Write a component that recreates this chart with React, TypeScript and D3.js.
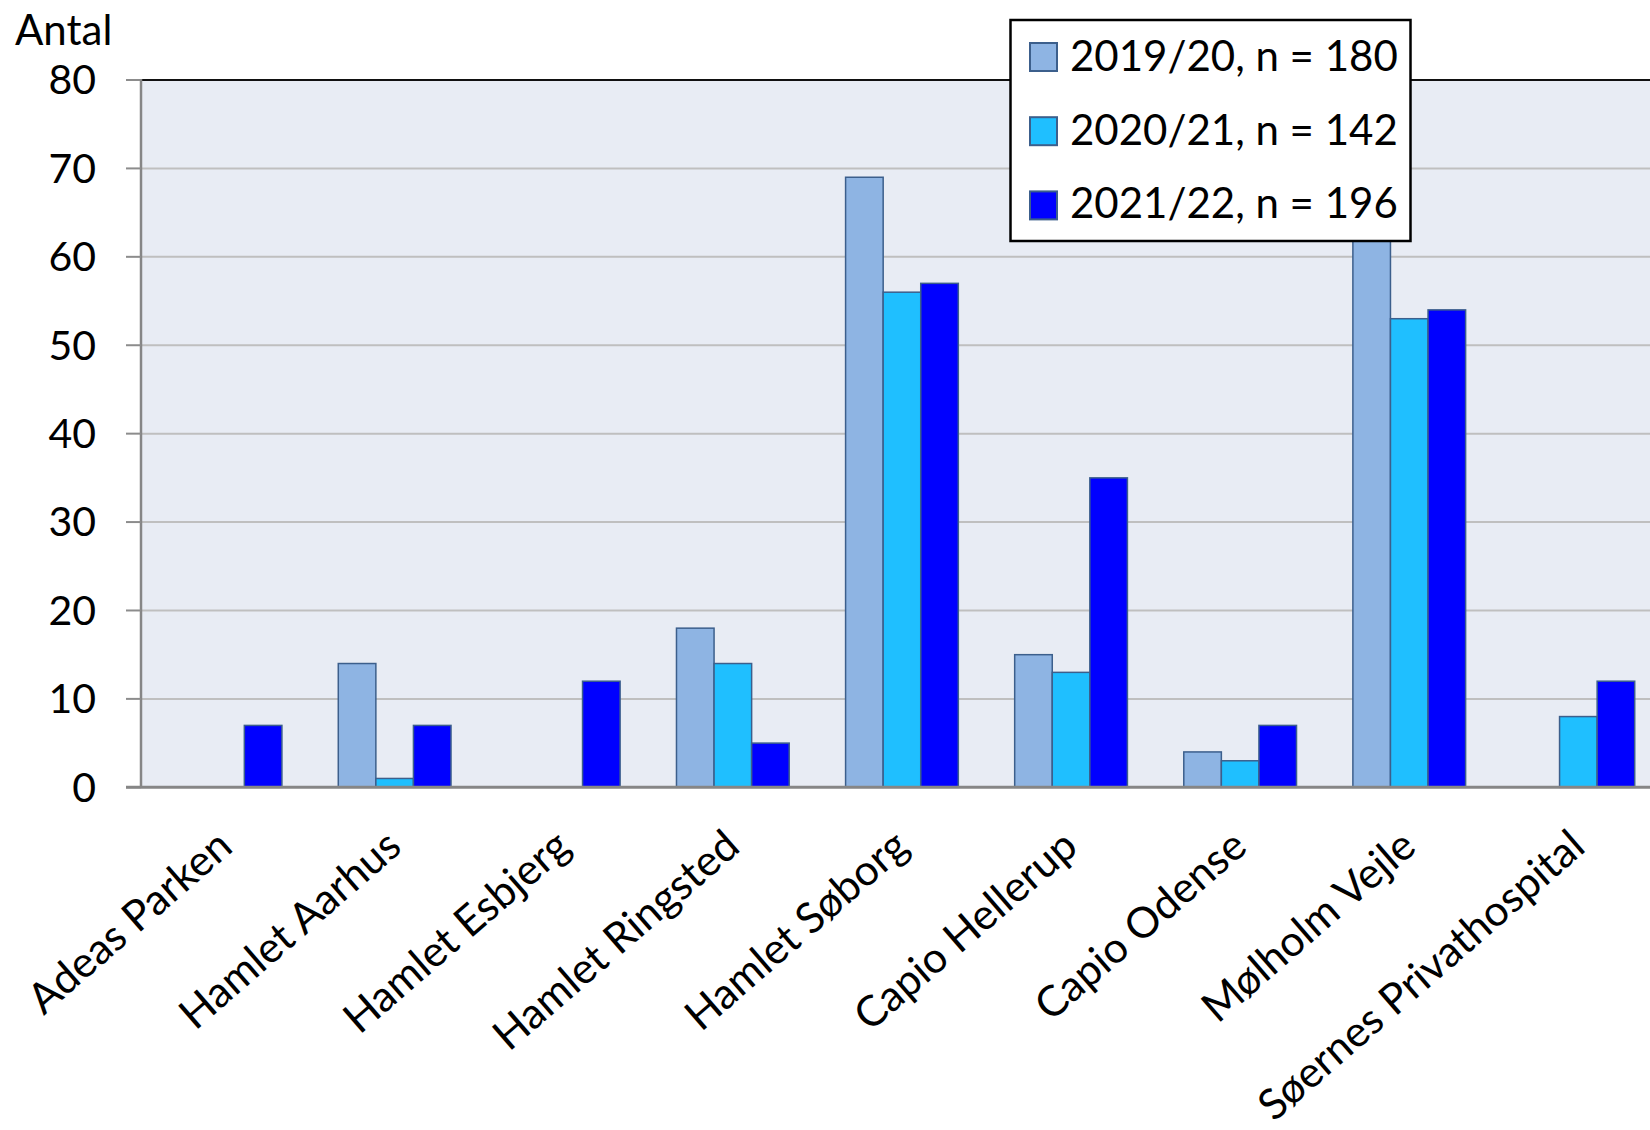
import React from 'react';
import * as d3 from 'd3';

const categories = [
  'Adeas Parken',
  'Hamlet Aarhus',
  'Hamlet Esbjerg',
  'Hamlet Ringsted',
  'Hamlet Søborg',
  'Capio Hellerup',
  'Capio Odense',
  'Mølholm Vejle',
  'Søernes Privathospital',
];
const seriesNames = ['2019/20, n = 180', '2020/21, n = 142', '2021/22, n = 196'];
const values2019 = [0, 14, 0, 18, 69, 15, 4, 63, 0];
const values2020 = [0, 1, 0, 14, 56, 13, 3, 53, 8];
const values2021 = [7, 7, 12, 5, 57, 35, 7, 54, 12];
const yTicks = [0, 10, 20, 30, 40, 50, 60, 70, 80];
const yAxisTitle = 'Antal';
const seriesColors = ['#8EB4E3', '#1FBFFF', '#0000FF'];

const W = 1650;
const H = 1130;
const FONT = 'Lato, "Open Sans", sans-serif';

export default function App() {
  const left = 141;
  const top = 80;
  const bottom = 787.3;
  const step = 169.1;
  const right = left + categories.length * step;

  const x0 = d3.scaleBand<string>().domain(categories).range([left, right]).padding(0);
  const bw = x0.bandwidth();
  const barW = bw / 4.5;
  const x1 = d3
    .scaleBand<string>()
    .domain(seriesNames)
    .range([(bw - 3 * barW) / 2, (bw + 3 * barW) / 2])
    .padding(0);
  const y = d3.scaleLinear().domain([0, 80]).range([bottom, top]);

  const seriesValues = [values2019, values2020, values2021];

  return (
    <svg
      width={W}
      height={H}
      style={{ position: 'absolute', left: 0, top: 0, background: '#fff' }}
      fontFamily={FONT}
    >
      <rect x={0} y={0} width={W} height={H} fill="#fff" />
      {/* plot background */}
      <rect x={left} y={top} width={right - left} height={bottom - top} fill="#E8ECF4" />
      {/* gridlines */}
      {yTicks
        .filter((t) => t !== 0 && t !== 80)
        .map((t) => (
          <line key={'g' + t} x1={left} x2={right} y1={y(t)} y2={y(t)} stroke="#BFBFBF" strokeWidth={2} />
        ))}
      {/* top border */}
      <line x1={left} x2={right} y1={top} y2={top} stroke="#111" strokeWidth={2} />
      {/* bars */}
      {seriesNames.map((s, si) =>
        categories.map((c, ci) => {
          const v = seriesValues[si][ci];
          if (v <= 0) return null;
          return (
            <rect
              key={s + c}
              x={(x0(c) as number) + (x1(s) as number)}
              y={y(v)}
              width={barW}
              height={y(0) - y(v)}
              fill={seriesColors[si]}
              stroke="#3C5F8C"
              strokeWidth={1.5}
            />
          );
        })
      )}
      {/* y axis */}
      <line x1={left} x2={left} y1={top - 1} y2={bottom} stroke="#868686" strokeWidth={2.5} />
      {yTicks.map((t) => (
        <line key={'t' + t} x1={126} x2={left} y1={y(t)} y2={y(t)} stroke="#8C8C8C" strokeWidth={2} />
      ))}
      {yTicks.map((t) => (
        <text key={'l' + t} x={96} y={y(t)} dy="0.35em" textAnchor="end" fontSize={41} fill="#000">
          {t}
        </text>
      ))}
      {/* x axis */}
      <line x1={126} x2={right} y1={bottom} y2={bottom} stroke="#868686" strokeWidth={3} />
      {categories.map((c) => {
        const cx = (x0(c) as number) + bw / 2;
        return (
          <text
            key={'c' + c}
            transform={`translate(${cx + 9},${850}) rotate(-41)`}
            textAnchor="end"
            fontSize={42.5}
            fill="#000"
          >
            {c}
          </text>
        );
      })}
      {/* axis title */}
      <text x={15} y={45} fontSize={42} fill="#000">
        {yAxisTitle}
      </text>
      {/* legend */}
      <rect x={1010.5} y={20} width={400} height={221} fill="#fff" stroke="#000" strokeWidth={2.5} />
      {seriesNames.map((s, i) => (
        <g key={'lg' + s}>
          <rect
            x={1030}
            y={43 + i * 74.2}
            width={27}
            height={28}
            fill={seriesColors[i]}
            stroke="#3C5F8C"
            strokeWidth={2}
          />
          <text x={1070} y={70.7 + i * 73.8} fontSize={42} fill="#000">
            {s}
          </text>
        </g>
      ))}
    </svg>
  );
}
